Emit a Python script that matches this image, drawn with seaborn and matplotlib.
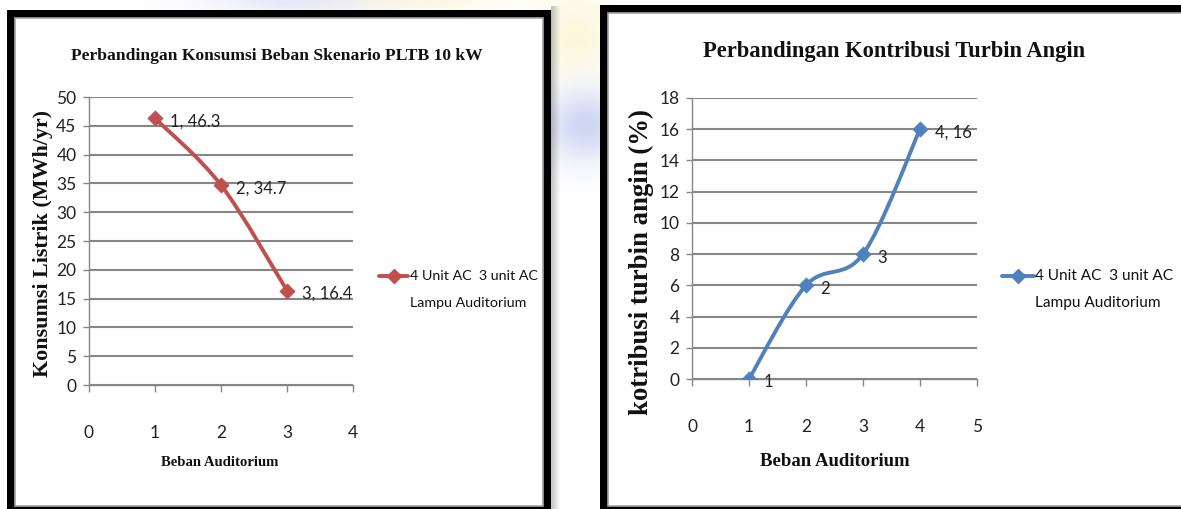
import numpy as np
import pandas as pd
import matplotlib
matplotlib.use("Agg")
import matplotlib.pyplot as plt
from matplotlib.path import Path
from matplotlib.patches import PathPatch, Rectangle
from matplotlib.lines import Line2D
import seaborn as sns

# ---- data -------------------------------------------------------------
load_x = [1, 2, 3]
load_consumption = [46.3, 34.7, 16.4]          # MWh/yr
load_labels = ["1, 46.3", "2, 34.7", "3, 16.4"]

contrib_x = [1, 2, 3, 4]
contrib_share = [0, 6, 8, 16]                  # %
contrib_labels = ["1", "2", "3", "4, 16"]

series_name = ["4 Unit AC  3 unit AC", "Lampu Auditorium"]

left_title = "Perbandingan Konsumsi Beban Skenario PLTB 10 kW"
right_title = "Perbandingan Kontribusi Turbin Angin"
left_ylabel = "Konsumsi Listrik (MWh/yr)"
right_ylabel = "kotribusi turbin angin (%)"
xlabel = "Beban Auditorium"

RED = "#C0504D"
BLUE = "#4F81BD"
GRID = "#868686"

sns.set_theme(style="white")
SANS = ["Lato", "DejaVu Sans"]
SERIF = ["Liberation Serif", "DejaVu Serif"]
plt.rcParams["font.family"] = SANS

W, H = 1181, 509
fig = plt.figure(figsize=(W / 100, H / 100), dpi=100)
fig.patch.set_facecolor("white")


def fx(x):
    return x / W


def fy(y):
    return 1 - y / H


# soft backdrop behind the two framed charts
bg = fig.add_axes([0, 0, 1, 1], zorder=-10)
bg.set_axis_off()
yy, xx = np.mgrid[0:H, 0:W]
img = np.ones((H, W, 3))


def blob(cx, cy, rx, ry, col, strength):
    g = np.exp(-(((xx - cx) / rx) ** 2 + ((yy - cy) / ry) ** 2)) * strength
    for c in range(3):
        img[..., c] = img[..., c] * (1 - g) + col[c] * g


blob(575, 35, 40, 40, (0.99, 0.96, 0.82), 0.8)
blob(585, 125, 40, 35, (0.76, 0.80, 0.94), 0.8)
blob(300, 0, 90, 15, (0.80, 0.82, 0.95), 0.5)
blob(420, 0, 80, 15, (0.99, 0.95, 0.80), 0.5)
bg.imshow(img, extent=[0, 1, 0, 1], aspect="auto", transform=bg.transAxes)


def frame(x0, y0, x1, y1, inner=8, shadow=True):
    if shadow:
        for i, a in enumerate(np.linspace(0.35, 0.03, 9)):
            fig.patches.append(Rectangle((fx(x1 + i), fy(H + 10)), 1 / W, (H + 10 - y0 + 4) / H,
                                         transform=fig.transFigure, color="#555555",
                                         alpha=a, lw=0, zorder=-5))
    fig.patches.append(Rectangle((fx(x0), fy(y1)), (x1 - x0) / W, (y1 - y0) / H,
                                 transform=fig.transFigure, color="black", lw=0, zorder=-4))
    fig.patches.append(Rectangle((fx(x0 + inner), fy(y1 - 6)), (x1 - x0 - 2 * inner) / W,
                                 (y1 - 6 - y0 - inner) / H, transform=fig.transFigure,
                                 facecolor="white", edgecolor="#a6a6a6", lw=1.2, zorder=-3))


frame(7, 10, 551, H + 3)
frame(600, 5, W + 12, H + 3, shadow=False)


def smooth_path(xs, ys):
    pts = np.column_stack([xs, ys]).astype(float)
    n = len(pts)
    verts = [pts[0]]
    codes = [Path.MOVETO]
    for i in range(n - 1):
        p0 = pts[i - 1] if i > 0 else pts[i]
        p1 = pts[i]
        p2 = pts[i + 1]
        p3 = pts[i + 2] if i + 2 < n else pts[i + 1]
        c1 = p1 + (p2 - p0) / 6.0
        c2 = p2 - (p3 - p1) / 6.0
        verts += [c1, c2, p2]
        codes += [Path.CURVE4] * 3
    return Path(verts, codes)


def style_axes(ax, xmax, ymax, ystep):
    ax.set_xlim(0, xmax)
    ax.set_ylim(0, ymax)
    ax.set_xticks(range(0, xmax + 1))
    ax.set_yticks(np.arange(0, ymax + 0.1, ystep))
    ax.yaxis.grid(True, color=GRID, lw=1.5)
    ax.xaxis.grid(False)
    for s in ["top", "right"]:
        ax.spines[s].set_visible(False)
    for s in ["left", "bottom"]:
        ax.spines[s].set_color(GRID)
        ax.spines[s].set_linewidth(1.0)
    ax.tick_params(axis="y", length=4, width=1, color=GRID, pad=5, labelsize=12.5, direction="out", left=True)
    ax.tick_params(axis="x", length=5, width=1, color=GRID, pad=24, labelsize=12.5, direction="out", bottom=True)
    ax.set_xlabel("")
    ax.set_ylabel("")
    ax.set_facecolor("none")
    for t in ax.get_xticklabels() + ax.get_yticklabels():
        t.set_color("#222222")


def draw_series(ax, xs, ys, labels, color):
    ax.add_patch(PathPatch(smooth_path(xs, ys), facecolor="none", edgecolor=color,
                           lw=2.8, capstyle="round", joinstyle="round", zorder=3))
    df = pd.DataFrame({"x": xs, "y": ys})
    sns.scatterplot(data=df, x="x", y="y", marker="D", s=60, color=color,
                    edgecolor=color, linewidth=0.5, ax=ax, zorder=4, legend=False)
    for x, y, lab in zip(xs, ys, labels):
        ax.annotate(lab, (x, y), xytext=(10.5, -2.5), textcoords="offset points",
                    ha="left", va="center", fontsize=12, color="#222222", zorder=5)


# ---- left chart ------------------------------------------------------
axL = fig.add_axes([fx(89), fy(385), (353 - 89) / W, (385 - 97) / H])
draw_series(axL, load_x, load_consumption, load_labels, RED)
style_axes(axL, 4, 50, 5)

# ---- right chart -----------------------------------------------------
axR = fig.add_axes([fx(692), fy(379), (977 - 692) / W, (379 - 98) / H])
draw_series(axR, contrib_x, contrib_share, contrib_labels, BLUE)
style_axes(axR, 5, 18, 2)


# ---- titles and axis labels -----------------------------------------
renderer = fig.canvas.get_renderer()


def fit(t, target, vertical=False):
    size = t.get_fontsize()
    bb = t.get_window_extent(renderer)
    cur = bb.height if vertical else bb.width
    t.set_fontsize(size * target / cur)
    return t


def serif_text(x, y, s, target, rotation=0):
    t = fig.text(fx(x), fy(y), s, ha="center", va="center", rotation=rotation,
                 family=SERIF, weight="bold", fontsize=16, color="#111111")
    return fit(t, target, vertical=bool(rotation))


serif_text(277, 56, left_title, 412)
serif_text(894, 52, right_title, 384)
serif_text(220, 463, xlabel, 118)
serif_text(835, 462, xlabel, 150)
serif_text(43, 244, left_ylabel, 267, rotation=90)
serif_text(641, 262, right_ylabel, 307, rotation=90)


# ---- legends ----------------------------------------------------------
def legend(x0, x1, y, x_text, width, color):
    fig.lines.append(Line2D([fx(x0), fx(x1)], [fy(y), fy(y)], transform=fig.transFigure,
                            color=color, lw=2.8))
    fig.lines.append(Line2D([fx((x0 + x1) / 2)], [fy(y)], transform=fig.transFigure,
                            color=color, marker="D", ms=7, lw=0))
    t1 = fig.text(fx(x_text), fy(y), series_name[0], ha="left", va="center",
                  fontsize=12, color="#111111")
    fit(t1, width)
    fig.text(fx(x_text), fy(y + 27), series_name[1], ha="left", va="center",
             fontsize=t1.get_fontsize(), color="#111111")


legend(379, 408, 276, 410, 127, RED)
legend(1002, 1034, 276, 1035, 138, BLUE)

fig.savefig("out.png", dpi=100)
